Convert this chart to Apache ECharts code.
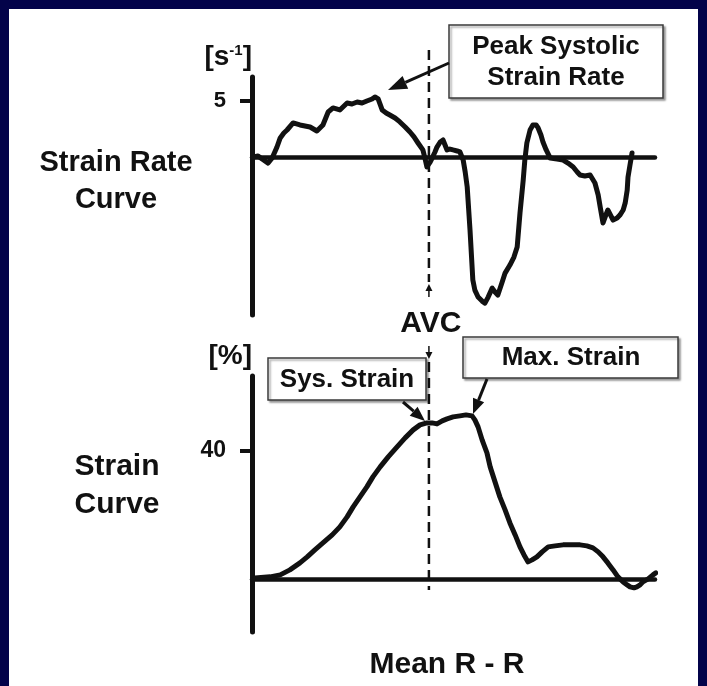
<!DOCTYPE html>
<html>
<head>
<meta charset="utf-8">
<script src="https://cdn.jsdelivr.net/npm/echarts@6/dist/echarts.min.js"></script>
<style>
html,body{margin:0;padding:0;background:#03034a;}
#chart{width:707px;height:686px;}
</style>
</head>
<body>
<div id="chart"></div>
<script>
// ---- data (time in arbitrary units 0..1000 of mean R-R) ----
const rateTime = [3,15,25,40,50,62,70,79,87,102,119,144,161,176,189,201,218,236,248,261,273,285,298,305,313,323,333,342,355,367,380,392,402,412,424,429,434,442,447,454,459,467,474,479,484,491,499,509,516,524,529,534,541,548,553,561,571,578,586,596,603,610,620,628,640,650,658,665,673,677,682,690,697,705,710,717,722,730,740,757,772,784,797,807,814,826,839,851,859,864,871,878,883,891,896,906,913,921,926,931,933,938,943];
const rateValues = [0,0.09,-0.18,-0.54,-0.09,0.89,1.7,2.14,2.41,3.04,2.86,2.68,2.32,2.86,4.02,4.38,4.2,4.82,4.73,4.91,4.82,5.0,5.18,5.36,5.18,4.2,3.93,3.75,3.48,3.13,2.68,2.23,1.79,1.25,0.63,-0.09,-0.89,-0.45,-0.09,0.45,0.89,1.34,1.52,1.07,0.63,0.71,0.63,0.54,0.45,-0.27,-1.34,-2.68,-6.52,-10.98,-11.88,-12.5,-12.86,-13.04,-12.5,-11.7,-12.05,-12.32,-11.25,-10.36,-9.64,-8.93,-8.04,-5.0,-2.05,-0.27,1.25,2.41,2.86,2.86,2.59,1.96,1.34,0.63,-0.09,-0.18,-0.27,-0.54,-0.89,-1.34,-1.61,-1.7,-1.61,-2.32,-3.39,-4.46,-5.89,-5.18,-4.73,-5.27,-5.63,-5.45,-5.18,-4.73,-4.11,-2.95,-1.79,-0.71,0.36];
const strainTime = [7,45,70,94,119,137,156,176,199,218,236,251,268,285,300,318,338,360,380,400,417,434,447,459,472,484,499,516,531,546,553,561,571,583,591,603,615,628,640,653,665,675,685,695,707,720,735,752,772,794,814,831,846,859,871,883,896,908,921,931,938,948,955,963,970,983,995,1002];
const strainValues = [0.31,0.63,1.25,2.81,5.0,6.88,9.06,11.25,13.75,16.25,19.38,22.5,25.63,28.75,31.88,35.0,38.13,41.25,44.06,46.56,48.13,48.75,48.75,48.44,49.38,50.0,50.63,50.94,51.25,50.94,49.69,47.5,43.44,39.38,35.0,30.31,25.63,21.56,17.5,13.75,10.0,7.5,5.31,5.94,6.88,8.44,10.0,10.31,10.63,10.63,10.63,10.31,9.69,8.44,6.88,5.0,2.81,0.63,-0.94,-1.88,-2.5,-2.81,-2.5,-1.88,-0.94,0.0,1.25,1.88];
const rateTicks = [5];
const strainTicks = [40];
const avcTime = [439];
const rateUnit = '[s{sup|-1}]';
const strainUnit = '[%]';

const FONT = "'Liberation Sans', Arial, Helvetica, sans-serif";
const INK = '#111';

const zip = (xs, ys) => xs.map((x, i) => [x, ys[i]]);

const chart = echarts.init(document.getElementById('chart'), null, {renderer: 'canvas'});

function xAxisCfg(gridIndex) {
  return {
    gridIndex, type: 'value', min: 0, max: 1000,
    axisLine: {show: true, onZero: true, lineStyle: {color: INK, width: 4.5}},
    axisTick: {show: false}, axisLabel: {show: false}, splitLine: {show: false}
  };
}
function yAxisCfg(gridIndex, min, max, ticks, name, fs) {
  return {
    gridIndex, type: 'value', min, max,
    name, nameLocation: 'end', nameGap: 20, nameMoveOverlap: false,
    nameTextStyle: {
      color: INK, fontFamily: FONT, fontWeight: 'bold', fontSize: 28,
      align: 'right', verticalAlign: 'middle', padding: [0, 0, 0, 0],
      rich: {sup: {fontSize: 15, fontWeight: 'bold', fontFamily: FONT, color: INK, verticalAlign: 'top', lineHeight: 18}}
    },
    axisLine: {show: true, onZero: false, lineStyle: {color: INK, width: 5}},
    axisTick: {show: true, customValues: ticks, length: 12, lineStyle: {color: INK, width: 4}},
    axisLabel: {show: true, customValues: ticks, margin: 26, color: INK, fontFamily: FONT, fontWeight: 'bold', fontSize: fs},
    splitLine: {show: false}
  };
}

const option = {
  backgroundColor: '#03034a',
  animation: false,
  grid: [
    {left: 252, top: 77, width: 403, height: 238, outerBoundsMode: 'none', containLabel: false},
    {left: 252, top: 376, width: 403, height: 256, outerBoundsMode: 'none', containLabel: false}
  ],
  xAxis: [xAxisCfg(0), xAxisCfg(1)],
  yAxis: [
    yAxisCfg(0, -14.1, 7.14, rateTicks, rateUnit, 22),
    yAxisCfg(1, -16.6, 63.4, strainTicks, strainUnit, 23)
  ],
  series: [
    {
      name: 'Strain Rate', type: 'line', xAxisIndex: 0, yAxisIndex: 0,
      data: zip(rateTime, rateValues), showSymbol: false, clip: false, z: 5,
      lineStyle: {color: INK, width: 5, join: 'round', cap: 'round'}
    },
    {
      name: 'Strain', type: 'line', xAxisIndex: 1, yAxisIndex: 1,
      data: zip(strainTime, strainValues), showSymbol: false, clip: false, z: 5,
      lineStyle: {color: INK, width: 5, join: 'round', cap: 'round'}
    }
  ]
};
chart.setOption(option);

// ---- annotations ----
const avcX = chart.convertToPixel({xAxisIndex: 0}, avcTime[0]);
const txt = (x, y, text, size, extra) => Object.assign({
  type: 'text', x, y, z: 20,
  style: {text, fill: INK, font: 'bold ' + size + 'px ' + FONT, align: 'center', verticalAlign: 'middle'}
}, extra || {});
function box(x, y, w, h) {
  return {type: 'rect', z: 15, shape: {x, y, width: w, height: h},
    style: {fill: '#fff', stroke: '#3a3a3a', lineWidth: 1.5, shadowColor: 'rgba(0,0,0,0.35)', shadowOffsetX: 2, shadowOffsetY: 2, shadowBlur: 2}};
}
function arrow(x1, y1, x2, y2, headLen, headW, lw) {
  const ang = Math.atan2(y2 - y1, x2 - x1);
  const bx = x2 - headLen * Math.cos(ang), by = y2 - headLen * Math.sin(ang);
  const px = -Math.sin(ang) * headW / 2, py = Math.cos(ang) * headW / 2;
  return [
    {type: 'line', z: 18, shape: {x1, y1, x2: bx, y2: by}, style: {stroke: INK, lineWidth: lw}},
    {type: 'polygon', z: 18, shape: {points: [[x2, y2], [bx + px, by + py], [bx - px, by - py]]}, style: {fill: INK}}
  ];
}
const dash = {stroke: INK, lineWidth: 2.5, lineDash: [10, 6]};
const graphics = [
  {type: 'rect', z: -100, shape: {x: 9, y: 9, width: 689, height: 690}, style: {fill: '#ffffff'}},
  {type: 'line', z: 3, shape: {x1: avcX, y1: 50, x2: avcX, y2: 282}, style: dash},
  {type: 'line', z: 3, shape: {x1: avcX, y1: 362, x2: avcX, y2: 590}, style: dash},
  ...arrow(avcX, 297, avcX, 284, 7, 7, 1.5),
  ...arrow(avcX, 346, avcX, 359, 7, 7, 1.5),
  txt(avcX + 2, 324, 'AVC', 30),
  txt(116, 181, 'Strain Rate\nCurve', 29, {style: {text: 'Strain Rate\nCurve', fill: INK, font: 'bold 29px ' + FONT, align: 'center', verticalAlign: 'middle', lineHeight: 37}}),
  txt(117, 486, 'Strain\nCurve', 30, {style: {text: 'Strain\nCurve', fill: INK, font: 'bold 30px ' + FONT, align: 'center', verticalAlign: 'middle', lineHeight: 38}}),
  txt(447, 665, 'Mean R - R', 30),
  box(449, 25, 214, 73),
  {type: 'text', x: 556, y: 62, z: 20, style: {text: 'Peak Systolic\nStrain Rate', fill: INK, font: 'bold 26px ' + FONT, align: 'center', verticalAlign: 'middle', lineHeight: 31}},
  ...arrow(449, 63, 388, 90, 19, 14, 3),
  box(268, 358, 158, 42),
  txt(347, 380, 'Sys. Strain', 26),
  ...arrow(403, 402, 425, 421, 15, 12, 3),
  box(463, 337, 215, 41),
  txt(571, 358, 'Max. Strain', 26),
  ...arrow(487, 379, 473, 414, 15, 12, 3)
];
chart.setOption({graphic: {elements: graphics}});
</script>
</body>
</html>
